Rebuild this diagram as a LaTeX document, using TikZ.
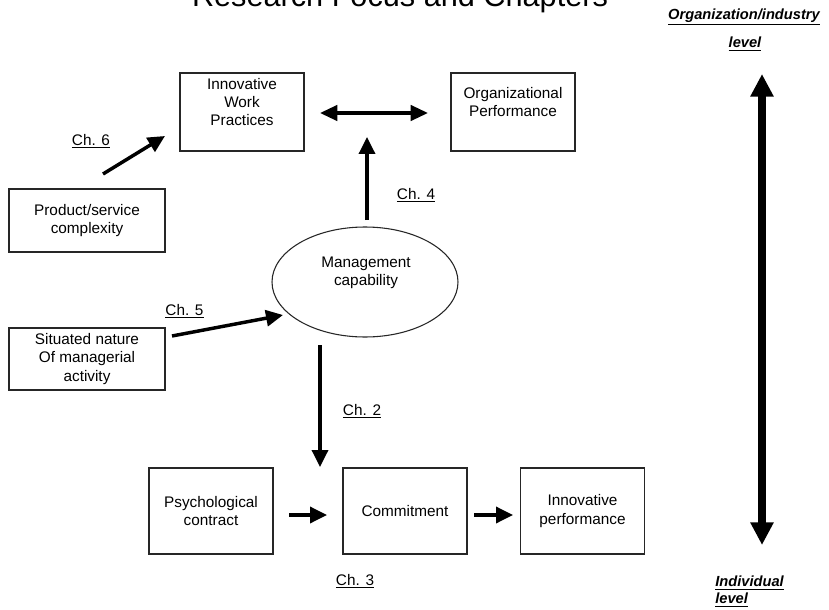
\documentclass[tikz,border=0pt]{standalone}
\usepackage{fontspec}
\setmainfont{Liberation Sans}
\usetikzlibrary{arrows.meta,shapes.geometric}
\begin{document}
\begin{tikzpicture}[x=0.75pt,y=-0.75pt,
  box/.style={draw=black!85,line width=0.8pt,inner sep=0pt},
  txt/.style={align=center,font=\fontsize{11.5pt}{13.8pt}\selectfont,inner sep=0pt},
  chlabel/.style={font=\fontsize{11.5pt}{13.8pt}\selectfont,inner sep=0pt},
  lvl/.style={font=\fontsize{11pt}{13pt}\selectfont\bfseries\itshape,inner sep=0pt},
  arr/.style={line width=2.6pt,-{Triangle[length=12.75pt,width=12pt]}},
  dblarr/.style={line width=2.5pt,{Triangle[length=13pt,width=11.5pt]}-{Triangle[length=13pt,width=11.5pt]}},
  bigarr/.style={line width=6pt,{Triangle[length=17pt,width=16.5pt]}-{Triangle[length=17pt,width=16.5pt]}}
]
\clip (0,0) rectangle (829,610);
\useasboundingbox (0,0) rectangle (829,610);
\fill[white] (0,0) rectangle (829,610);

% title
\node[anchor=base,inner sep=0pt,font=\fontsize{23pt}{27pt}\selectfont] (title) at (400,7) {Research Focus and Chapters};

% level labels
\node[lvl] (orglvl) at (744,17) {\underline{Organization/industry}};
\node[lvl] (orglvl2) at (745,44) {\underline{level}};
\node[lvl,anchor=west] (indlvl) at (715,583) {\underline{Individual}};
\node[lvl,anchor=west] (indlvl2) at (715,600) {\underline{level}};
\coordinate (bigtop) at (762,74);
\coordinate (bigbot) at (762,545);
\draw[bigarr] (bigtop) -- (bigbot);

% top boxes
\node[box,minimum width=124*0.75pt,minimum height=78*0.75pt] (iwp) at (242,112) {};
\node[txt] (iwpt) at (242,102) {Innovative\\Work\\Practices};
\node[box,minimum width=124*0.75pt,minimum height=78*0.75pt] (op) at (513,112) {};
\node[txt] (opt) at (513,102) {Organizational\\Performance};

\coordinate (dl) at (320,113);
\coordinate (dr) at (428,113);
\draw[dblarr] (dl) -- (dr);

% left boxes
\node[box,txt,minimum width=156*0.75pt,minimum height=63*0.75pt] (psc) at (87,220.5) {Product/service\\complexity};
\node[box,txt,minimum width=156*0.75pt,minimum height=62*0.75pt] (sit) at (87,359) {Situated nature\\Of managerial\\activity};

% ellipse
\node[ellipse,draw=black!85,line width=0.8pt,minimum width=186*0.75pt,minimum height=110*0.75pt,inner sep=0pt] (mc) at (365,282) {};
\node[txt] (mct) at (366,273) {Management\\capability};

% arrows upper
\coordinate (a6s) at (103,174);
\coordinate (a6e) at (165,136);
\draw[arr] (a6s) -- (a6e);
\node[chlabel] (ch6) at (91,141) {\underline{Ch. 6}};

\coordinate (a4s) at (367,220);
\coordinate (a4e) at (367,137);
\draw[arr] (a4s) -- (a4e);
\node[chlabel] (ch4) at (416,195) {\underline{Ch. 4}};

\coordinate (a5s) at (172,336);
\coordinate (a5e) at (283,315);
\draw[arr] (a5s) -- (a5e);
\node[chlabel] (ch5) at (184.5,311) {\underline{Ch. 5}};

\coordinate (a2s) at (320,345);
\coordinate (a2e) at (320,467);
\draw[arr] (a2s) -- (a2e);
\node[chlabel] (ch2) at (362,411) {\underline{Ch. 2}};

% bottom boxes
\node[box,txt,minimum width=124*0.75pt,minimum height=86*0.75pt] (pc) at (211,511) {Psychological\\contract};
\node[box,txt,minimum width=124*0.75pt,minimum height=86*0.75pt] (com) at (405,511) {Commitment};
\node[box,txt,minimum width=124*0.75pt,minimum height=86*0.75pt] (ip) at (582.5,511) {Innovative\\performance};

\coordinate (b1s) at (289,515);
\coordinate (b1e) at (327,515);
\draw[arr] (b1s) -- (b1e);
\coordinate (b2s) at (474,515);
\coordinate (b2e) at (513,515);
\draw[arr] (b2s) -- (b2e);

\node[chlabel] (ch3) at (355,581) {\underline{Ch. 3}};
\end{tikzpicture}
\end{document}
